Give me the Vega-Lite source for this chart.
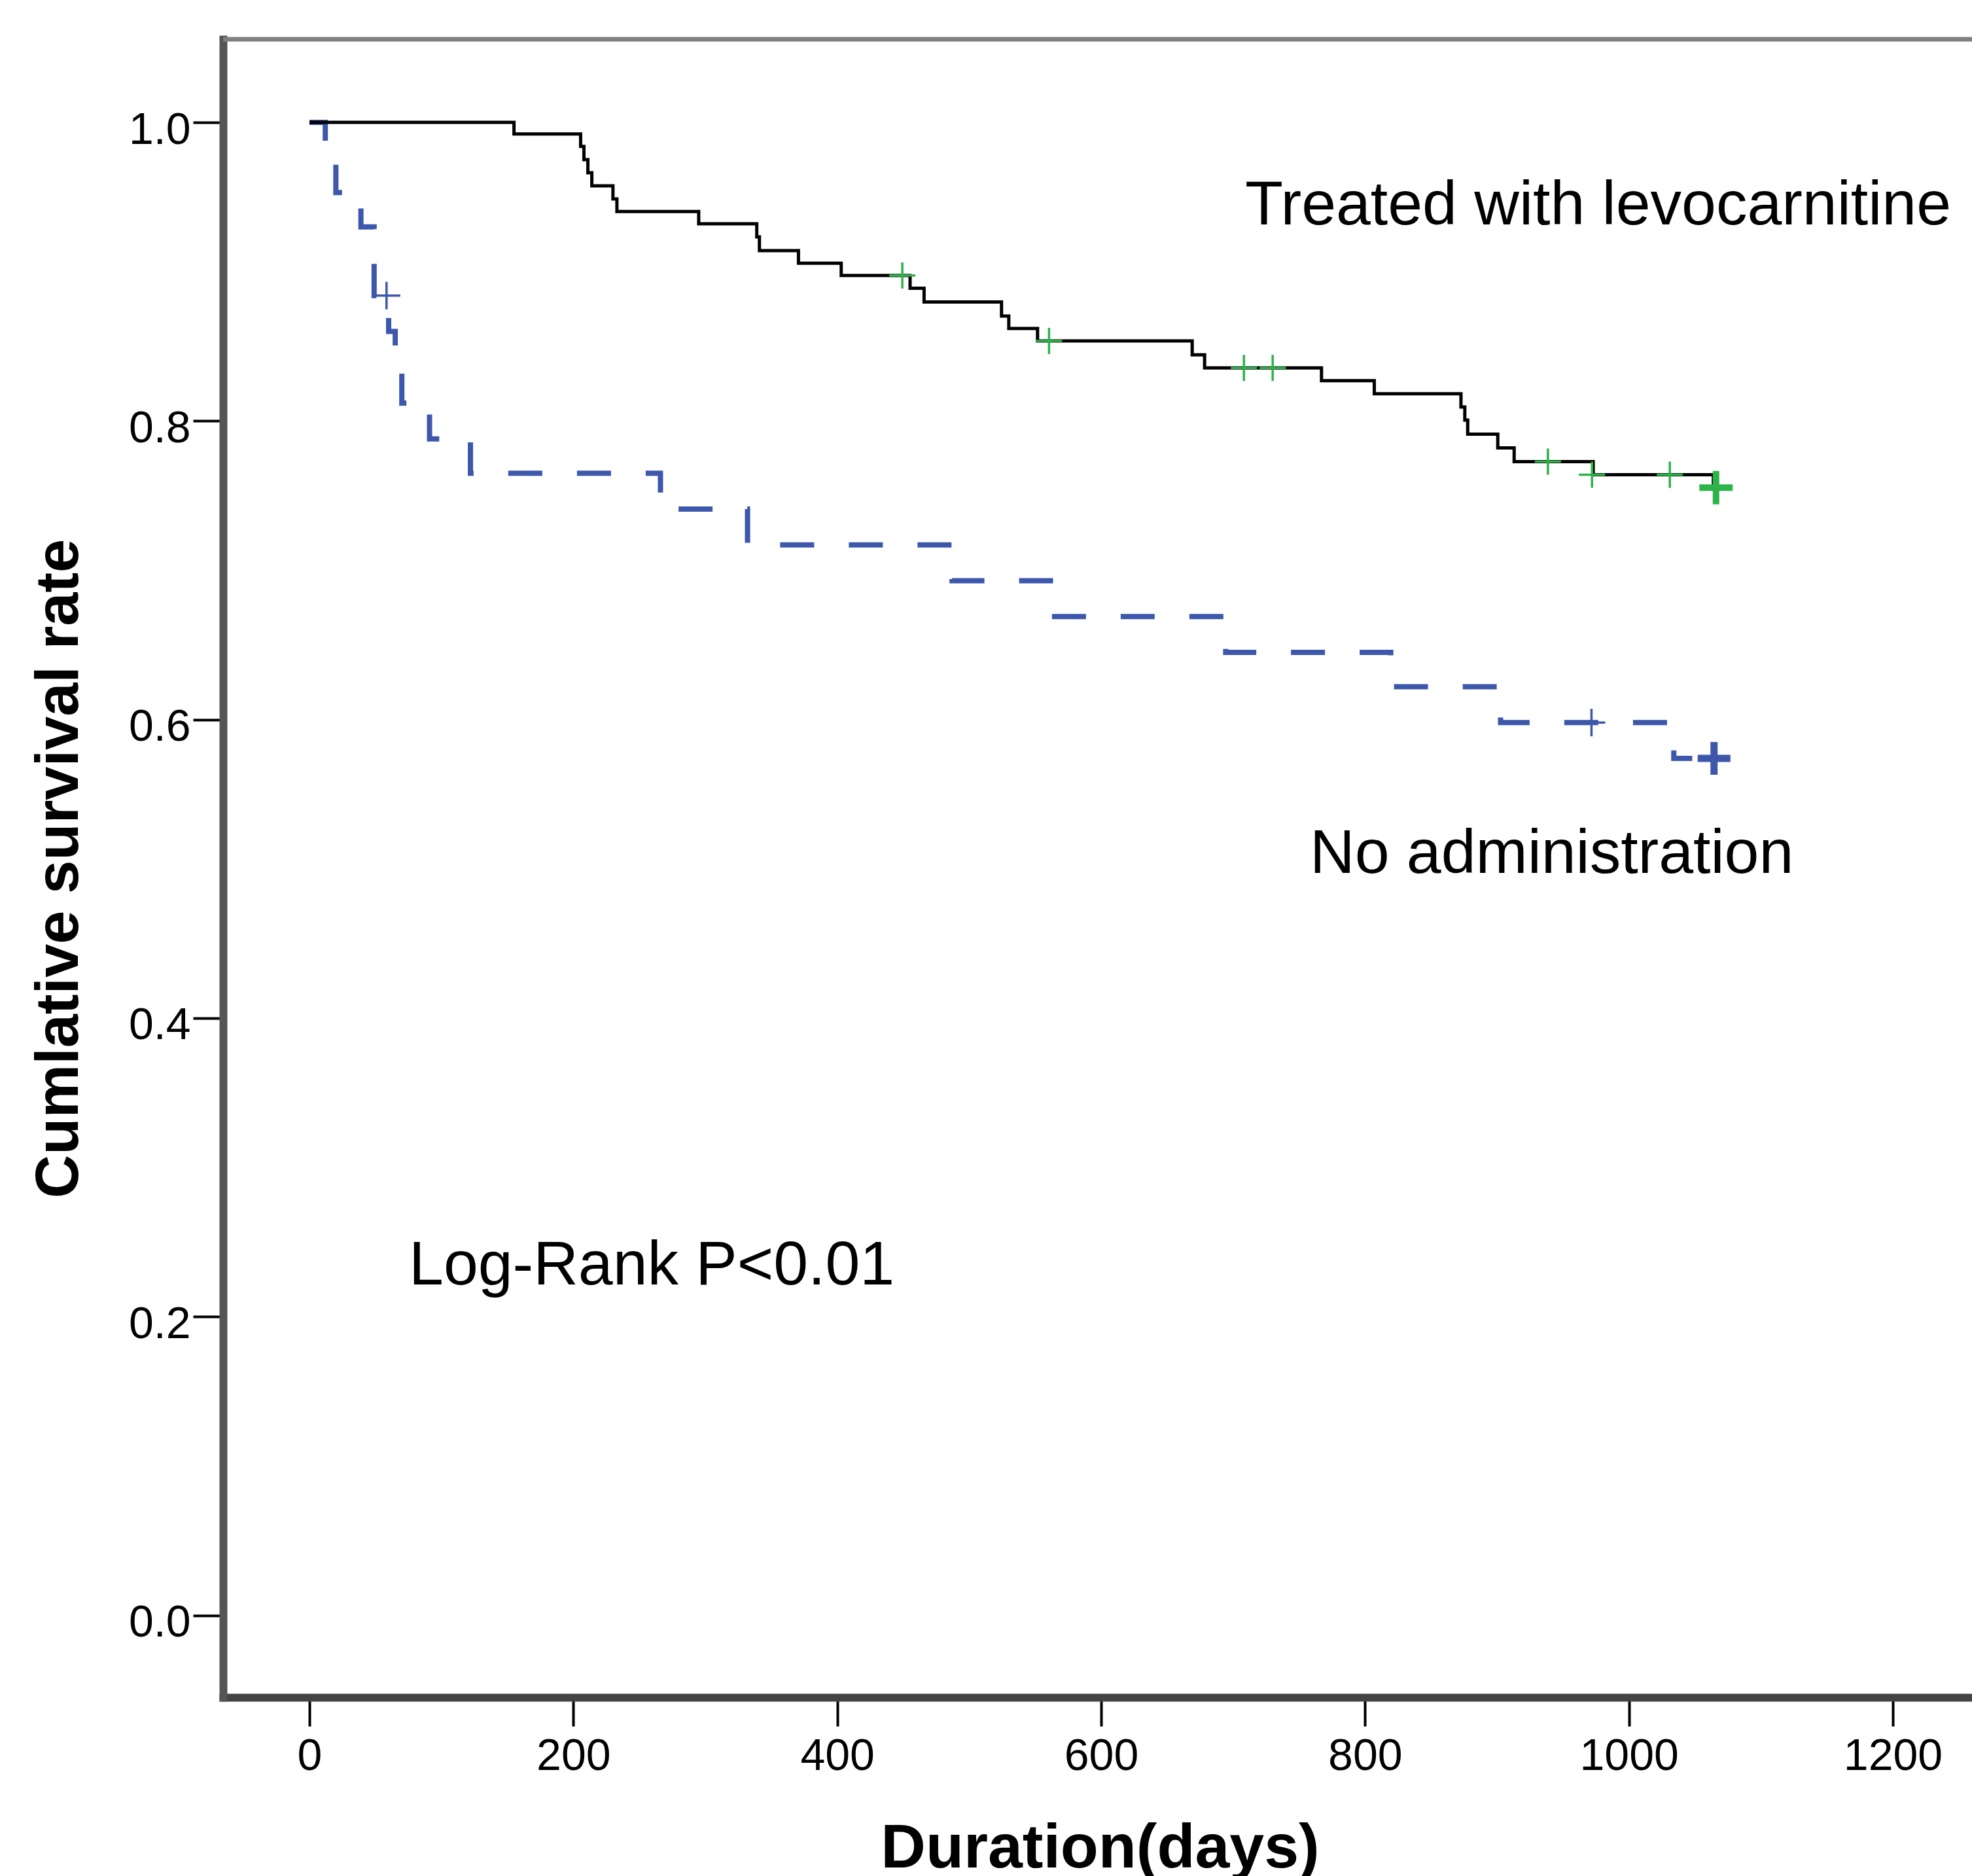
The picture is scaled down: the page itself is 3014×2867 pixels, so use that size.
{
  "$schema": "https://vega.github.io/schema/vega-lite/v6.json",
  "autosize": {"type": "none"},
  "padding": {"left": 341, "top": 60, "right": 0, "bottom": 273},
  "width": 2673,
  "height": 2534,
  "background": "white",
  "config": {"font": "Liberation Sans", "view": {"stroke": null}},
  "datasets": {
    "frame": [
      {"day": -65.45, "surv": 1.0557},
      {"day": 1260, "surv": 1.0557}
    ],
    "curves": [
      {"group": "Treated", "day": 0, "surv": 1.0},
      {"group": "Treated", "day": 155, "surv": 0.9923},
      {"group": "Treated", "day": 205.5, "surv": 0.9839},
      {"group": "Treated", "day": 208, "surv": 0.9751},
      {"group": "Treated", "day": 211, "surv": 0.9663},
      {"group": "Treated", "day": 214, "surv": 0.9575},
      {"group": "Treated", "day": 230, "surv": 0.9487},
      {"group": "Treated", "day": 233, "surv": 0.9403},
      {"group": "Treated", "day": 295, "surv": 0.9321},
      {"group": "Treated", "day": 339, "surv": 0.9233},
      {"group": "Treated", "day": 341, "surv": 0.9141},
      {"group": "Treated", "day": 370.6, "surv": 0.9057},
      {"group": "Treated", "day": 403, "surv": 0.8975},
      {"group": "Treated", "day": 455.2, "surv": 0.8889},
      {"group": "Treated", "day": 465.8, "surv": 0.8797},
      {"group": "Treated", "day": 524.5, "surv": 0.8703},
      {"group": "Treated", "day": 530, "surv": 0.862},
      {"group": "Treated", "day": 551.8, "surv": 0.8536},
      {"group": "Treated", "day": 669, "surv": 0.8443},
      {"group": "Treated", "day": 678.4, "surv": 0.8355},
      {"group": "Treated", "day": 767, "surv": 0.827},
      {"group": "Treated", "day": 807, "surv": 0.8182},
      {"group": "Treated", "day": 872.7, "surv": 0.8094},
      {"group": "Treated", "day": 875.6, "surv": 0.8006},
      {"group": "Treated", "day": 877.8, "surv": 0.7912},
      {"group": "Treated", "day": 900.6, "surv": 0.782},
      {"group": "Treated", "day": 913, "surv": 0.7728},
      {"group": "Treated", "day": 972.9, "surv": 0.764},
      {"group": "Treated", "day": 1064, "surv": 0.7553},
      {"group": "Treated", "day": 1066, "surv": 0.7553},
      {"group": "None", "day": 0, "surv": 1.0},
      {"group": "None", "day": 12, "surv": 0.977},
      {"group": "None", "day": 20, "surv": 0.953},
      {"group": "None", "day": 39, "surv": 0.93},
      {"group": "None", "day": 49, "surv": 0.884},
      {"group": "None", "day": 60, "surv": 0.86},
      {"group": "None", "day": 65, "surv": 0.836},
      {"group": "None", "day": 70, "surv": 0.812},
      {"group": "None", "day": 91, "surv": 0.788},
      {"group": "None", "day": 122, "surv": 0.765},
      {"group": "None", "day": 266, "surv": 0.741},
      {"group": "None", "day": 332, "surv": 0.717},
      {"group": "None", "day": 487, "surv": 0.693},
      {"group": "None", "day": 561.6, "surv": 0.669},
      {"group": "None", "day": 694.4, "surv": 0.645},
      {"group": "None", "day": 819.5, "surv": 0.622},
      {"group": "None", "day": 902.7, "surv": 0.598},
      {"group": "None", "day": 1034, "surv": 0.574},
      {"group": "None", "day": 1048, "surv": 0.574}
    ],
    "censored": [
      {"group": "Treated", "day": 449.3, "surv": 0.8975, "count": 1},
      {"group": "Treated", "day": 560.5, "surv": 0.8536, "count": 1},
      {"group": "Treated", "day": 708.2, "surv": 0.8355, "count": 1},
      {"group": "Treated", "day": 730, "surv": 0.8355, "count": 1},
      {"group": "Treated", "day": 938.6, "surv": 0.7728, "count": 1},
      {"group": "Treated", "day": 972, "surv": 0.764, "count": 1},
      {"group": "Treated", "day": 1031, "surv": 0.764, "count": 1},
      {"group": "Treated", "day": 1066, "surv": 0.7553, "count": 5},
      {"group": "None", "day": 58.4, "surv": 0.884, "count": 1},
      {"group": "None", "day": 971.6, "surv": 0.598, "count": 1},
      {"group": "None", "day": 1064.5, "surv": 0.574, "count": 5}
    ],
    "labels": [
      {"day": 709.1, "surv": 0.9315, "text": "Treated with levocarnitine"},
      {"day": 758.2, "surv": 0.4974, "text": "No administration"},
      {"day": 75.4, "surv": 0.2216, "text": "Log-Rank P<0.01"}
    ]
  },
  "encoding": {
    "x": {
      "field": "day", "type": "quantitative",
      "scale": {"domain": [-65.45, 1260], "nice": false, "zero": false},
      "axis": {
        "values": [0, 200, 400, 600, 800, 1000, 1200],
        "format": "d",
        "title": "Duration(days)",
        "titleFontSize": 95, "titleFontWeight": "bold", "titleColor": "black",
        "titleX": 1340, "titleY": 259, "titleAlign": "center", "titleBaseline": "alphabetic",
        "labelFontSize": 68, "labelColor": "black", "labelPadding": 12,
        "labelFlush": false, "labelOverlap": false,
        "tickSize": 44, "tickWidth": 4, "tickColor": "black",
        "domainColor": "#444444", "domainWidth": 12, "domainCap": "square",
        "grid": false
      }
    },
    "y": {
      "field": "surv", "type": "quantitative",
      "scale": {"domain": [-0.055, 1.0557], "nice": false, "zero": false},
      "axis": {
        "values": [0, 0.2, 0.4, 0.6, 0.8, 1.0],
        "format": ".1f",
        "title": "Cumlative survival rate",
        "titleFontSize": 92, "titleFontWeight": "bold", "titleColor": "black",
        "titleAngle": 270, "titleX": -223, "titleY": 1267, "titleAlign": "center", "titleBaseline": "alphabetic",
        "labelFontSize": 68, "labelColor": "black", "labelPadding": 4, "labelOffset": 12,
        "labelFlush": false, "labelOverlap": false,
        "tickSize": 46, "tickWidth": 4, "tickColor": "black",
        "domainColor": "#555555", "domainWidth": 12, "domainCap": "square",
        "grid": false
      }
    }
  },
  "layer": [
    {
      "data": {"name": "frame"},
      "mark": {"type": "line", "color": "#808080", "strokeWidth": 7, "clip": false},
      "encoding": {}
    },
    {
      "data": {"name": "curves"},
      "transform": [{"filter": "datum.group === 'None'"}],
      "mark": {"type": "line", "interpolate": "step-after", "color": "#3D57AB", "strokeWidth": 8, "strokeDash": [52, 53], "strokeCap": "butt"}
    },
    {
      "data": {"name": "curves"},
      "transform": [{"filter": "datum.group === 'Treated'"}],
      "mark": {"type": "line", "interpolate": "step-after", "color": "black", "strokeWidth": 5}
    },
    {
      "data": {"name": "censored"},
      "transform": [{"filter": "datum.group === 'Treated' && datum.count === 1"}],
      "mark": {"type": "point", "shape": "M-1,0H1M0,-1V1", "filled": false, "color": "#2EB24A", "size": 1600, "strokeWidth": 3.5, "opacity": 1}
    },
    {
      "data": {"name": "censored"},
      "transform": [{"filter": "datum.group === 'Treated' && datum.count > 1"}],
      "mark": {"type": "point", "shape": "M-1,0H1M0,-1V1", "filled": false, "color": "#2EB24A", "size": 2601, "strokeWidth": 10, "opacity": 1}
    },
    {
      "data": {"name": "censored"},
      "transform": [{"filter": "datum.group === 'None' && datum.count === 1"}],
      "mark": {"type": "point", "shape": "M-1,0H1M0,-1V1", "filled": false, "color": "#3D57AB", "size": 1764, "strokeWidth": 3.5, "opacity": 1}
    },
    {
      "data": {"name": "censored"},
      "transform": [{"filter": "datum.group === 'None' && datum.count > 1"}],
      "mark": {"type": "point", "shape": "M-1,0H1M0,-1V1", "filled": false, "color": "#3D57AB", "size": 2500, "strokeWidth": 11, "opacity": 1}
    },
    {
      "data": {"name": "labels"},
      "mark": {"type": "text", "align": "left", "baseline": "alphabetic", "fontSize": 95, "font": "Liberation Sans", "color": "black"},
      "encoding": {"text": {"field": "text", "type": "nominal"}}
    }
  ]
}
